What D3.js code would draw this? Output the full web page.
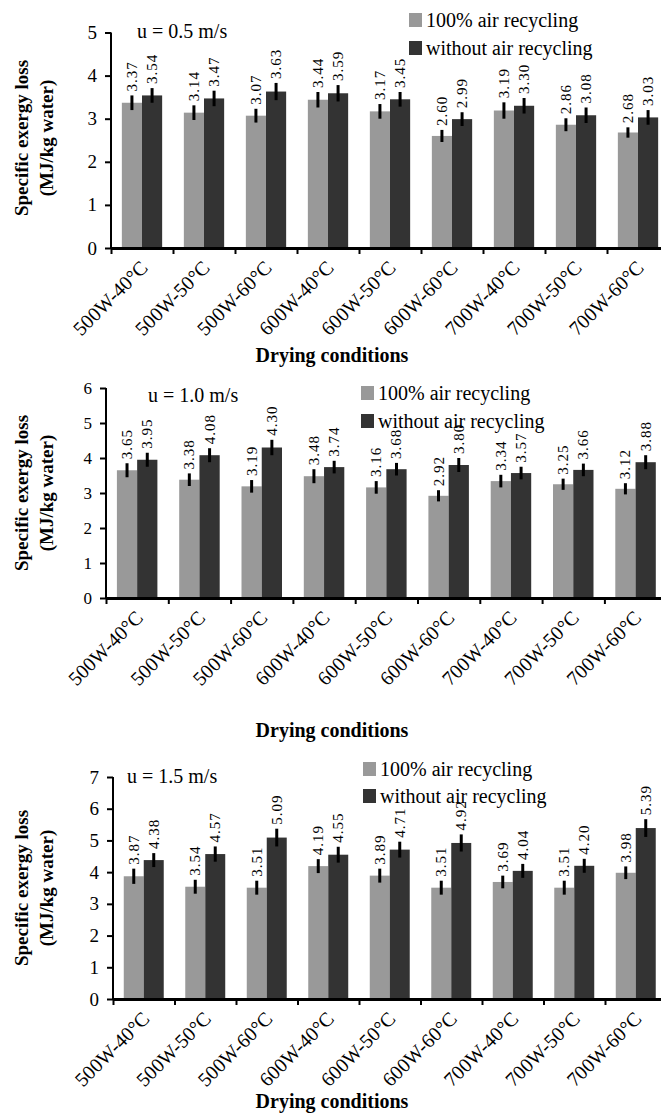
<!DOCTYPE html>
<html>
<head>
<meta charset="utf-8">
<script src="https://cdn.jsdelivr.net/npm/d3@7/dist/d3.min.js"></script>
<style>
  html, body { margin: 0; padding: 0; background: #fff; }
  svg { display: block; }
  text { font-family: "Liberation Serif", "Times New Roman", serif; fill: #000; }
</style>
</head>
<body>
<script>
// ---------- DATA ----------
const categories = ["500W-40\u00B0C","500W-50\u00B0C","500W-60\u00B0C","600W-40\u00B0C","600W-50\u00B0C","600W-60\u00B0C","700W-40\u00B0C","700W-50\u00B0C","700W-60\u00B0C"];
const seriesNames = ["100% air recycling", "without air recycling"];

// u = 0.5 m/s
const recycle05 = [3.37, 3.14, 3.07, 3.44, 3.17, 2.60, 3.19, 2.86, 2.68];
const without05 = [3.54, 3.47, 3.63, 3.59, 3.45, 2.99, 3.30, 3.08, 3.03];
const recycleErr05 = [0.17, 0.17, 0.16, 0.18, 0.17, 0.14, 0.19, 0.15, 0.12];
const withoutErr05 = [0.17, 0.18, 0.20, 0.19, 0.17, 0.16, 0.18, 0.18, 0.17];
const yTicks05 = [0, 1, 2, 3, 4, 5];

// u = 1.0 m/s
const recycle10 = [3.65, 3.38, 3.19, 3.48, 3.16, 2.92, 3.34, 3.25, 3.12];
const without10 = [3.95, 4.08, 4.30, 3.74, 3.68, 3.80, 3.57, 3.66, 3.88];
const recycleErr10 = [0.20, 0.18, 0.18, 0.20, 0.18, 0.16, 0.18, 0.16, 0.16];
const withoutErr10 = [0.20, 0.20, 0.22, 0.18, 0.18, 0.20, 0.18, 0.18, 0.20];
const yTicks10 = [0, 1, 2, 3, 4, 5, 6];

// u = 1.5 m/s
const recycle15 = [3.87, 3.54, 3.51, 4.19, 3.89, 3.51, 3.69, 3.51, 3.98];
const without15 = [4.38, 4.57, 5.09, 4.55, 4.71, 4.92, 4.04, 4.20, 5.39];
const recycleErr15 = [0.24, 0.22, 0.22, 0.22, 0.22, 0.22, 0.20, 0.22, 0.20];
const withoutErr15 = [0.22, 0.24, 0.28, 0.25, 0.25, 0.27, 0.22, 0.22, 0.28];
const yTicks15 = [0, 1, 2, 3, 4, 5, 6, 7];

const speedLabels = ["u = 0.5 m/s", "u = 1.0 m/s", "u = 1.5 m/s"];
const yTitle = ["Specific exergy loss", "(MJ/kg water)"];
const xTitle = "Drying conditions";

// ---------- LAYOUT ----------
const W = 661, H = 1117;
const colors = ["#999999", "#333333"];

const panels = [
  { rec: recycle05, wo: without05, rErr: recycleErr05, wErr: withoutErr05, ticks: yTicks05, speed: speedLabels[0],
    left: 111, step: 62, y0: 248, yTop: 32.5, tickFont: 19,
    speedX: 137, speedY: 38, legX: 409, legY: [27, 55], yTitleY: 138, xTitleY: 362 },
  { rec: recycle10, wo: without10, rErr: recycleErr10, wErr: withoutErr10, ticks: yTicks10, speed: speedLabels[1],
    left: 106, step: 62.3, y0: 598, yTop: 388, tickFont: 17,
    speedX: 148, speedY: 402, legX: 361, legY: [400, 428], yTitleY: 493, xTitleY: 737 },
  { rec: recycle15, wo: without15, rErr: recycleErr15, wErr: withoutErr15, ticks: yTicks15, speed: speedLabels[2],
    left: 113, step: 61.5, y0: 999, yTop: 777, tickFont: 19,
    speedX: 127, speedY: 783, legX: 363, legY: [776, 803], yTitleY: 888, xTitleY: 1108 }
];

const svg = d3.select("body").append("svg").attr("width", W).attr("height", H);

panels.forEach(p => {
  const g = svg.append("g");
  const ymax = p.ticks[p.ticks.length - 1];
  const y = d3.scaleLinear().domain([0, ymax]).range([p.y0, p.yTop]);
  const x = d3.scaleBand().domain(categories)
    .range([p.left, p.left + categories.length * p.step])
    .paddingInner(0.35).paddingOuter(0.175);
  const xs = d3.scaleBand().domain([0, 1]).range([0, x.bandwidth()]);
  const xEdge = d3.scaleLinear().domain([0, categories.length]).range([p.left, p.left + categories.length * p.step]);

  const rows = categories.map((c, i) => ({
    c, vals: [
      { s: 0, v: p.rec[i], e: p.rErr[i] },
      { s: 1, v: p.wo[i], e: p.wErr[i] }
    ]
  }));

  // bars
  const grp = g.selectAll(".grp").data(rows).enter().append("g")
    .attr("transform", d => `translate(${x(d.c)},0)`);
  grp.selectAll("rect").data(d => d.vals).enter().append("rect")
    .attr("x", d => xs(d.s))
    .attr("width", xs.bandwidth())
    .attr("y", d => y(d.v))
    .attr("height", d => y(0) - y(d.v))
    .attr("fill", d => colors[d.s]);
  // error bars
  grp.selectAll("line.err").data(d => d.vals).enter().append("line")
    .attr("class", "err")
    .attr("x1", d => xs(d.s) + xs.bandwidth() / 2)
    .attr("x2", d => xs(d.s) + xs.bandwidth() / 2)
    .attr("y1", d => y(d.v - d.e))
    .attr("y2", d => y(d.v + d.e))
    .attr("stroke", "#000").attr("stroke-width", 3);
  // value labels
  grp.selectAll("text.val").data(d => d.vals).enter().append("text")
    .attr("class", "val")
    .attr("transform", d => `translate(${xs(d.s) + xs.bandwidth() / 2 + 5},${y(d.v + d.e) - 4}) rotate(-90)`)
    .attr("font-size", 15)
    .attr("letter-spacing", 1)
    .text(d => d.v.toFixed(2));

  // y axis
  const ya = g.append("g").attr("transform", `translate(${p.left},0)`)
    .call(d3.axisLeft(y).tickValues(p.ticks).tickFormat(d3.format("d")).tickSize(6).tickPadding(8));
  ya.select(".domain").attr("stroke", "#000").attr("stroke-width", 2).attr("d", `M0,${p.y0}V${p.yTop}`);
  ya.selectAll(".tick line").attr("stroke", "#000").attr("stroke-width", 2);
  ya.selectAll(".tick text").attr("font-size", p.tickFont)
    .attr("font-family", "'Liberation Serif', serif").attr("fill", "#000");

  // x axis (category boundary ticks)
  const xa = g.append("g").attr("transform", `translate(0,${p.y0})`)
    .call(d3.axisBottom(xEdge).tickValues(d3.range(categories.length + 1)).tickFormat("").tickSize(6).tickSizeOuter(0));
  xa.select(".domain").attr("stroke", "#000").attr("stroke-width", 3);
  xa.selectAll(".tick line").attr("stroke", "#000").attr("stroke-width", 2);

  // x category labels
  g.selectAll(".xl").data(categories).enter().append("text")
    .attr("transform", c => `translate(${x(c) + x.bandwidth() / 2 + 7},${p.y0 + 21}) rotate(-45)`)
    .attr("text-anchor", "end")
    .attr("font-size", 20)
    .text(c => c);

  // titles
  g.append("text").attr("x", 332).attr("y", p.xTitleY).attr("text-anchor", "middle")
    .attr("font-size", 20).attr("font-weight", "bold").text(xTitle);
  g.selectAll(".yt").data(yTitle).enter().append("text")
    .attr("transform", (d, i) => `translate(${28 + i * 25},${p.yTitleY}) rotate(-90)`)
    .attr("text-anchor", "middle").attr("font-size", 19).attr("font-weight", "bold")
    .text(d => d);

  // speed annotation
  g.append("text").attr("x", p.speedX).attr("y", p.speedY).attr("font-size", 20).text(p.speed);

  // legend
  seriesNames.forEach((s, i) => {
    g.append("rect").attr("x", p.legX).attr("y", p.legY[i] - 14).attr("width", 13).attr("height", 14)
      .attr("fill", colors[i]);
    g.append("text").attr("x", p.legX + 17).attr("y", p.legY[i]).attr("font-size", 20).text(s);
  });
});
</script>
</body>
</html>
